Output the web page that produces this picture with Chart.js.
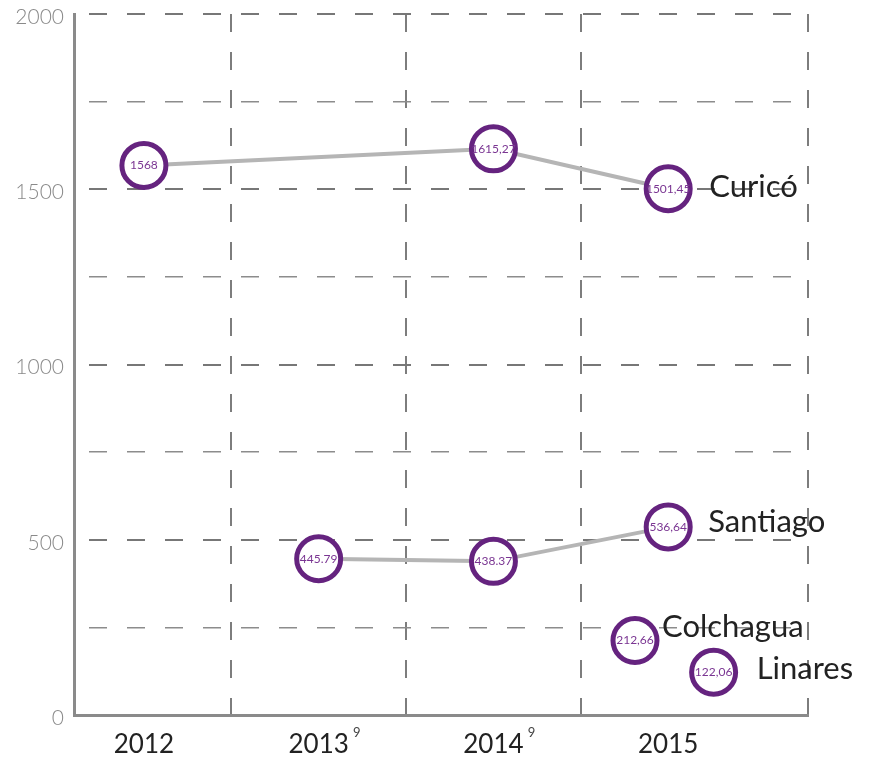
<!DOCTYPE html>
<html>
<head>
<meta charset="utf-8">
<script src="https://cdn.jsdelivr.net/npm/chart.js@4/dist/chart.umd.min.js"></script>
<style>
  html, body { margin: 0; padding: 0; background: #ffffff; }
  #wrap { width: 876px; height: 758px; }
</style>
</head>
<body>
<div id="wrap"><canvas id="c" width="876" height="758"></canvas></div>
<script>
// ---- data ----
const years = [2012, 2013, 2014, 2015];
const yearNotes = ['', '9', '9', ''];

const curicoX = [2012, 2014, 2015];
const curicoY = [1568, 1615.27, 1501.45];
const curicoLabels = ['1568', '1615,27', '1501,45'];

const santiagoX = [2013, 2014, 2015];
const santiagoY = [445.79, 438.37, 536.64];
const santiagoLabels = ['445.79', '438.37', '536,64'];

const colchaguaX = [2014.81];
const colchaguaY = [212.66];
const colchaguaLabels = ['212,66'];

const linaresX = [2015.26];
const linaresY = [122.06];
const linaresLabels = ['122,06'];

const seriesNames = ['Curicó', 'Santiago', 'Colchagua', 'Linares'];
const yTickValues = [0, 500, 1000, 1500, 2000];

// ---- styles ----
const PURPLE = '#65237f';
const LINE_GRAY = '#b5b5b5';
const GRID = '#7d7d7d';
const nameOffsets = [[41, -2], [40, -5], [27, -13], [43, -3]];

function pts(xs, ys) { return xs.map((x, i) => ({ x: x, y: ys[i] })); }
function ds(name, xs, ys, labels) {
  return {
    label: name,
    data: pts(xs, ys),
    valueLabels: labels,
    borderColor: LINE_GRAY,
    borderWidth: 4,
    pointRadius: 22,
    pointHoverRadius: 22,
    pointBorderWidth: 5,
    pointBorderColor: PURPLE,
    pointBackgroundColor: '#ffffff',
    tension: 0,
    clip: false
  };
}

const labelPlugin = {
  id: 'labelPlugin',
  afterDatasetsDraw(chart) {
    const ctx = chart.ctx;
    ctx.save();
    chart.data.datasets.forEach((d, di) => {
      const meta = chart.getDatasetMeta(di);
      meta.data.forEach((el, i) => {
        ctx.font = '12px Lato, "DejaVu Sans", sans-serif';
        ctx.fillStyle = '#7a3592';
        ctx.textAlign = 'center';
        ctx.textBaseline = 'middle';
        ctx.fillText(d.valueLabels[i], el.x, el.y);
      });
      const last = meta.data[meta.data.length - 1];
      const off = nameOffsets[di];
      ctx.font = '31px Lato, "Open Sans", sans-serif';
      ctx.fillStyle = '#222222';
      ctx.textAlign = 'left';
      ctx.textBaseline = 'middle';
      ctx.fillText(seriesNames[di], last.x + off[0], last.y + off[1]);
    });
    // small superscript notes next to the year labels
    const xs = chart.scales.x;
    ctx.font = '13px Lato, sans-serif';
    ctx.fillStyle = '#444444';
    ctx.textAlign = 'center';
    ctx.textBaseline = 'middle';
    years.forEach((y, i) => {
      if (yearNotes[i]) ctx.fillText(yearNotes[i], xs.getPixelForValue(y) + 38, 733);
    });
    ctx.restore();
  }
};

new Chart(document.getElementById('c'), {
  type: 'line',
  data: {
    datasets: [
      ds(seriesNames[0], curicoX, curicoY, curicoLabels),
      ds(seriesNames[1], santiagoX, santiagoY, santiagoLabels),
      ds(seriesNames[2], colchaguaX, colchaguaY, colchaguaLabels),
      ds(seriesNames[3], linaresX, linaresY, linaresLabels)
    ]
  },
  options: {
    responsive: false,
    animation: false,
    layout: { autoPadding: false, padding: { left: 0, right: 68, top: 14, bottom: 0 } },
    plugins: { legend: { display: false }, tooltip: { enabled: false } },
    scales: {
      x: {
        type: 'linear',
        position: 'bottom',
        min: 2011.6,
        max: 2015.8,
        afterBuildTicks(scale) { scale.ticks = years.map(v => ({ value: v })); },
        afterFit(scale) { scale.height = 43; scale.paddingLeft = 0; scale.paddingRight = 0; },
        grid: { display: false, drawTicks: false },
        border: { display: true, color: '#8a8a8a', width: 3 },
        ticks: {
          padding: 14,
          color: '#222222',
          font: { family: 'Lato, "Open Sans", sans-serif', size: 26 },
          callback: v => String(v),
          maxRotation: 0,
          autoSkip: false
        }
      },
      xg: {
        type: 'linear',
        position: 'top',
        min: 2011.6,
        max: 2015.8,
        afterBuildTicks(scale) {
          scale.ticks = [2012.5, 2013.5, 2014.5, 2015.8].map(v => ({ value: v }));
        },
        afterFit(scale) { scale.height = 0; scale.paddingLeft = 0; scale.paddingRight = 0; },
        grid: { display: true, drawTicks: false, color: GRID, lineWidth: 2 },
        border: { display: false, dash: [18, 20], dashOffset: 0 },
        ticks: { display: false }
      },
      y: {
        type: 'linear',
        min: 0,
        max: 2000,
        afterBuildTicks(scale) {
          const t = [];
          for (let v = 0; v <= 2000; v += 250) t.push({ value: v });
          scale.ticks = t;
        },
        afterFit(scale) { scale.width = 74; scale.paddingTop = 0; scale.paddingBottom = 0; },
        grid: {
          drawTicks: false,
          color: c => (c.tick && c.tick.value === 0) ? 'rgba(0,0,0,0)' :
                      (c.tick && c.tick.value % 500 === 0 ? '#777777' : '#8c8c8c'),
          lineWidth: c => (c.tick && c.tick.value % 500 === 0) ? 2 : 1.5
        },
        border: { display: true, color: '#8a8a8a', width: 3, dash: [18, 20], dashOffset: 25 },
        ticks: {
          padding: 10,
          labelOffset: 3,
          color: '#8a8a8a',
          font: { family: 'Lato, "Open Sans", sans-serif', size: 21, weight: '300' },
          callback: v => yTickValues.includes(v) ? String(v) : '',
          autoSkip: false
        }
      }
    }
  },
  plugins: [labelPlugin]
});
</script>
</body>
</html>
